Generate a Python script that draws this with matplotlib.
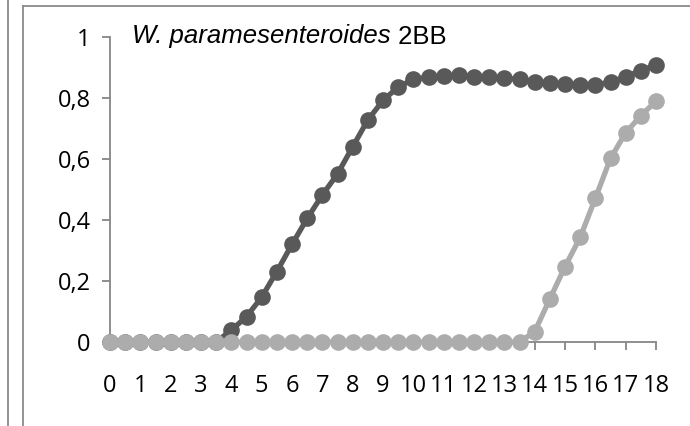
"""Growth curve of W. paramesenteroides 2BB, redrawn in the Excel chart style."""

import matplotlib

matplotlib.use("Agg")
import matplotlib.pyplot as plt
from matplotlib.font_manager import FontProperties
from matplotlib.lines import Line2D

# Sampling times (every half unit) and the two measured series
TIME = [
    0, 0.5, 1, 1.5, 2, 2.5, 3, 3.5, 4, 4.5, 5, 5.5, 6, 6.5, 7, 7.5, 8, 8.5,
    9, 9.5, 10, 10.5, 11, 11.5, 12, 12.5, 13, 13.5, 14, 14.5, 15, 15.5, 16,
    16.5, 17, 17.5, 18,
]
DARK_SERIES = [
    0, 0, 0, 0, 0, 0, 0, 0, 0.039, 0.083, 0.147, 0.231, 0.320, 0.405, 0.482,
    0.551, 0.640, 0.728, 0.792, 0.836, 0.861, 0.868, 0.872, 0.874, 0.870,
    0.869, 0.865, 0.861, 0.853, 0.850, 0.846, 0.844, 0.844, 0.851, 0.870,
    0.890, 0.908,
]
LIGHT_SERIES = [
    0, 0, 0, 0, 0, 0, 0, 0, 0, 0, 0, 0, 0, 0, 0, 0, 0, 0, 0, 0, 0, 0, 0, 0,
    0, 0, 0, 0, 0.034, 0.141, 0.247, 0.343, 0.471, 0.602, 0.686, 0.742, 0.790,
]
X_TICKS = list(range(0, 19))
Y_TICKS = [0, 0.2, 0.4, 0.6, 0.8, 1]
Y_LABELS = ["0", "0,2", "0,4", "0,6", "0,8", "1"]

TITLE_ITALIC = "W. paramesenteroides"
TITLE_PLAIN = " 2BB"

DARK = "#595959"
LIGHT = "#acacac"
AXIS_GREY = "#868686"
FRAME_GREY = "#8a8a8a"

W, H = 690, 426


def px(x, y):
    """Convert pixel coordinates (origin top-left) to figure fractions."""
    return x / W, 1 - y / H


def draw_frames(fig):
    """Chart-area borders: this chart's frame and the neighbour's edge."""
    x0, y0 = px(22.5, 6)
    fig.add_artist(Line2D([x0, x0], [0, y0], color=FRAME_GREY, lw=1.3))
    fig.add_artist(Line2D([x0, 1], [y0, y0], color=FRAME_GREY, lw=1.3))
    xn, _ = px(7.5, 0)
    fig.add_artist(Line2D([xn, xn], [0, 1], color=FRAME_GREY, lw=1.3))


def main() -> None:
    """Build the figure and save it to out.png."""
    tick_font = FontProperties(family="Open Sans", size=17)
    title_it = FontProperties(family="Liberation Sans", style="italic",
                              size=18.5)
    title_up = FontProperties(family="Liberation Sans", size=18.5)

    fig = plt.figure(figsize=(W / 100, H / 100), dpi=100)
    left, top = px(110, 37)
    right, bottom = px(656, 342)
    ax = fig.add_axes([left, bottom, right - left, top - bottom])

    for values, color in ((DARK_SERIES, DARK), (LIGHT_SERIES, LIGHT)):
        ax.plot(
            TIME, values, color=color, lw=3.8, marker="o", markersize=12,
            markeredgewidth=0, clip_on=False,
        )

    ax.set_xlim(0, 18)
    ax.set_ylim(0, 1)
    ax.set_xticks(X_TICKS, [str(t) for t in X_TICKS], fontproperties=tick_font)
    ax.set_yticks(Y_TICKS, Y_LABELS, fontproperties=tick_font)

    for side in ("top", "right"):
        ax.spines[side].set_visible(False)
    for side in ("left", "bottom"):
        ax.spines[side].set_color(AXIS_GREY)
        ax.spines[side].set_linewidth(1.3)
        ax.spines[side].set_zorder(0)

    ax.tick_params(axis="both", direction="out", length=6, width=1.3,
                   color=AXIS_GREY)
    ax.tick_params(axis="y", pad=8)
    ax.tick_params(axis="x", pad=17)

    # Title: italic species name followed by an upright strain code
    tx, ty = px(132, 43.5)
    italic = fig.text(tx, ty, TITLE_ITALIC, fontproperties=title_it,
                      va="baseline")
    ax.annotate(TITLE_PLAIN, xy=(1, 0), xycoords=italic, ha="left",
                va="bottom", fontproperties=title_up)

    draw_frames(fig)
    fig.savefig("out.png", dpi=100)
    plt.close(fig)


if __name__ == "__main__":
    main()
